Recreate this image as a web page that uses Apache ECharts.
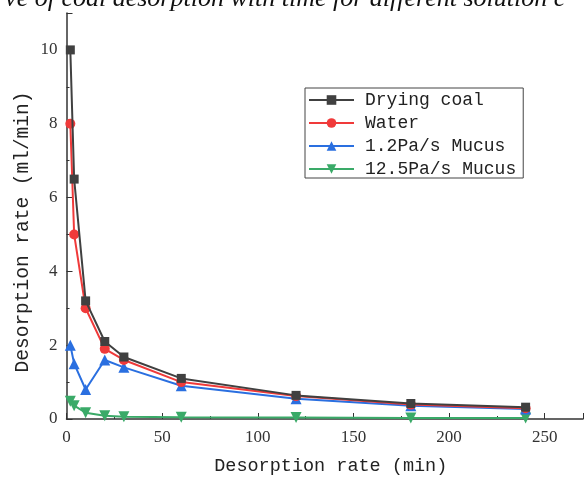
<!DOCTYPE html>
<html>
<head>
<meta charset="utf-8">
<script src="https://cdn.jsdelivr.net/npm/echarts@6/dist/echarts.min.js"></script>
<style>html,body{margin:0;padding:0;background:#fff;}#c{width:586px;height:481px;}</style>
</head>
<body>
<div id="c"></div>
<script>
const times = [2, 4, 10, 20, 30, 60, 120, 180, 240];
const dryingCoal = [10, 6.5, 3.2, 2.1, 1.68, 1.1, 0.64, 0.42, 0.32];
const water = [8, 5, 3.0, 1.9, 1.6, 1.0, 0.62, 0.39, 0.29];
const mucus12 = [2.0, 1.5, 0.8, 1.6, 1.4, 0.9, 0.55, 0.36, 0.27];
const mucus125 = [0.48, 0.36, 0.17, 0.09, 0.06, 0.05, 0.04, 0.03, 0.03];
const seriesNames = ['Drying coal', 'Water', '1.2Pa/s Mucus', '12.5Pa/s Mucus'];
const xTitle = 'Desorption rate (min)';
const yTitle = 'Desorption rate (ml/min)';
const caption = 'rve of coal desorption with time for different solution c';

const colors = ['#404040', '#f03a3a', '#2a6fe0', '#3aaa68'];
const symbols = ['rect', 'circle', 'triangle', 'triangle'];
const rotates = [0, 0, 0, 180];
const sizes = [9, 10, 11, 11];
const allData = [dryingCoal, water, mucus12, mucus125];

const chart = echarts.init(document.getElementById('c'), null, {renderer: 'canvas'});
const axisCommon = {
  axisLine: {show: true, lineStyle: {color: '#333', width: 1.5}},
  axisTick: {show: true, inside: true, length: 6, lineStyle: {color: '#333'}},
  minorTick: {show: true, splitNumber: 2, length: 3, lineStyle: {color: '#333'}},
  splitLine: {show: false},
  axisLabel: {color: '#333', fontFamily: 'Liberation Serif', fontSize: 17}
};
chart.setOption({
  animation: false,
  backgroundColor: '#fff',
  graphic: [{
    type: 'text', left: -5, top: -14, silent: true,
    style: {text: caption, font: 'italic 26px "Liberation Serif"', fill: '#111'}
  }, {
    type: 'text', silent: true, x: 23, y: 232, rotation: Math.PI / 2,
    style: {text: yTitle, font: '19.5px "Liberation Mono"', fill: '#222', align: 'center', verticalAlign: 'middle'}
  }],
  grid: {left: 66.5, top: 13, bottom: 57, right: -3, containLabel: false},
  legend: {
    orient: 'vertical', left: 305, top: 88,
    data: seriesNames,
    borderColor: '#444', borderWidth: 1, borderRadius: 0,
    padding: [3, 7, 0, 3],
    itemWidth: 45, itemHeight: 12, itemGap: 5,
    textStyle: {fontFamily: 'Liberation Mono', fontSize: 18, color: '#222', lineHeight: 16, padding: [0, 0, 0, 6]}
  },
  xAxis: Object.assign({}, axisCommon, {
    type: 'value', min: 0, max: 270, interval: 50,
    name: xTitle, nameLocation: 'middle', nameGap: 38,
    nameTextStyle: {fontFamily: 'Liberation Mono', fontSize: 18.5, color: '#222', padding: [0, 0, 0, 12]},
    axisLabel: Object.assign({}, axisCommon.axisLabel, {margin: 10, formatter: v => (v % 50 === 0 ? String(v) : '')})
  }),
  yAxis: Object.assign({}, axisCommon, {
    type: 'value', min: 0, max: 11, interval: 2,
    axisLabel: Object.assign({}, axisCommon.axisLabel, {margin: 9, formatter: v => (v % 2 === 0 ? String(v) : '')})
  }),
  series: seriesNames.map((n, i) => ({
    name: n, type: 'line',
    data: times.map((t, j) => [t, allData[i][j]]),
    symbol: symbols[i], symbolSize: sizes[i], symbolRotate: rotates[i],
    showAllSymbol: true,
    lineStyle: {color: colors[i], width: 2},
    itemStyle: {color: colors[i]},
    z: 10 - i
  }))
});
</script>
</body>
</html>
